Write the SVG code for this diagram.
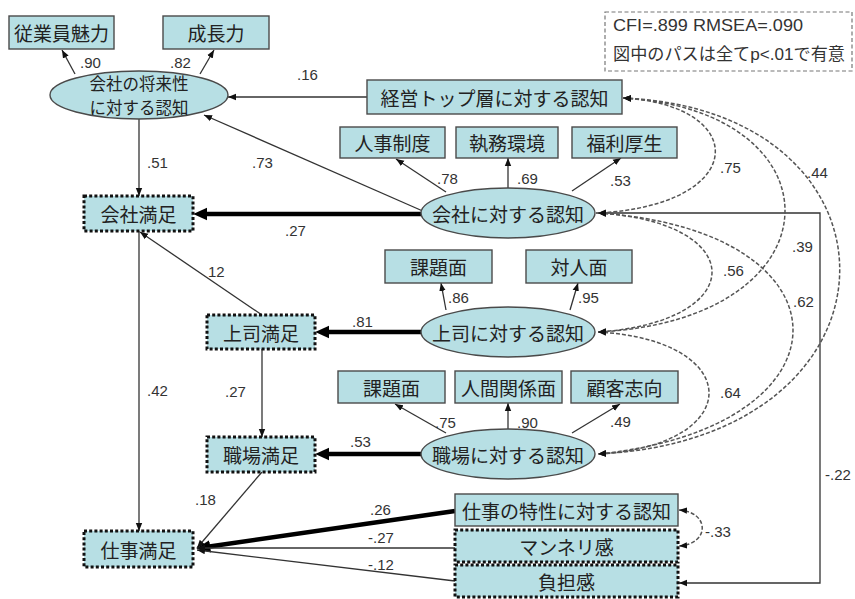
<svg xmlns="http://www.w3.org/2000/svg" width="855" height="599" viewBox="0 0 855 599">
<style>
.box{fill:#b7dfe4;stroke:#4a4a4a;stroke-width:1.4}
.dot{fill:#b7dfe4;stroke:#111;stroke-width:3;stroke-dasharray:3 2.2}
.ell{fill:#b7dfe4;stroke:#4a4a4a;stroke-width:1.4}
.t{font-family:"Noto Sans CJK JP","Noto Sans",sans-serif;font-size:19px;fill:#222;text-anchor:middle;dominant-baseline:central}
.s{font-size:16.5px}
.n{font-family:"Liberation Sans",Arial,sans-serif;font-size:15px;fill:#333}
.ln{fill:none;stroke:#333;stroke-width:1.3}
.th{fill:none;stroke:#000;stroke-width:4.5}
.cv{fill:none;stroke:#555;stroke-width:1.5;stroke-dasharray:4 2}
.lg{fill:none;stroke:#777;stroke-width:1.2;stroke-dasharray:4 2.5}
.lt{font-family:"Liberation Sans","Noto Sans CJK JP",sans-serif;font-size:16.5px;fill:#333}
</style>
<defs>
<marker id="a" viewBox="0 0 10 10" refX="10" refY="5" markerWidth="8" markerHeight="8" markerUnits="userSpaceOnUse" orient="auto-start-reverse"><path d="M0,1 L10,5 L0,9 z" fill="#111"/></marker>
<marker id="b" viewBox="0 0 10 10" refX="3" refY="5" markerWidth="14" markerHeight="14" markerUnits="userSpaceOnUse" orient="auto"><path d="M0,0.5 L10,5 L0,9.5 z" fill="#000"/></marker>
</defs>

<g id="legend">
<rect class="lg" x="605" y="12" width="247" height="59"/>
<text class="lt" x="613" y="31" textLength="190" lengthAdjust="spacingAndGlyphs">CFI=.899  RMSEA=.090</text>
<text class="lt" x="613" y="60" textLength="232" lengthAdjust="spacingAndGlyphs">図中のパスは全てp&lt;.01で有意</text>
</g>

<g id="connectors">
<line class="ln" x1="75" y1="74" x2="62" y2="50" marker-end="url(#a)"/>
<line class="ln" x1="200" y1="74" x2="214" y2="50" marker-end="url(#a)"/>
<line class="ln" x1="367" y1="97" x2="228" y2="97" marker-end="url(#a)"/>
<line class="ln" x1="425" y1="212" x2="204" y2="115" marker-end="url(#a)"/>
<line class="ln" x1="139" y1="119" x2="139" y2="196" marker-end="url(#a)"/>
<line class="ln" x1="446" y1="192" x2="396" y2="159" marker-end="url(#a)"/>
<line class="ln" x1="508" y1="188" x2="508" y2="158" marker-end="url(#a)"/>
<line class="ln" x1="572" y1="191" x2="621" y2="158" marker-end="url(#a)"/>
<line class="th" x1="422" y1="214" x2="203" y2="214" marker-end="url(#b)"/>
<line class="ln" x1="262" y1="315" x2="140" y2="232" marker-end="url(#a)"/>
<line class="ln" x1="446" y1="310" x2="441" y2="283" marker-end="url(#a)"/>
<line class="ln" x1="570" y1="310" x2="578" y2="283" marker-end="url(#a)"/>
<line class="th" x1="422" y1="332" x2="325" y2="332" marker-end="url(#b)"/>
<line class="ln" x1="139" y1="231" x2="139" y2="531" marker-end="url(#a)"/>
<line class="ln" x1="262" y1="349" x2="262" y2="437" marker-end="url(#a)"/>
<line class="ln" x1="446" y1="433" x2="395" y2="404" marker-end="url(#a)"/>
<line class="ln" x1="508" y1="429" x2="508" y2="403" marker-end="url(#a)"/>
<line class="ln" x1="572" y1="433" x2="620" y2="404" marker-end="url(#a)"/>
<line class="th" x1="422" y1="454" x2="325" y2="454" marker-end="url(#b)"/>
<line class="ln" x1="262" y1="472" x2="197" y2="548" marker-end="url(#a)"/>
<line class="th" x1="455" y1="511" x2="206" y2="547" marker-end="url(#b)"/>
<line class="ln" x1="455" y1="548" x2="197" y2="548" marker-end="url(#a)"/>
<line class="ln" x1="455" y1="581" x2="197" y2="550" marker-end="url(#a)"/>
<polyline class="ln" points="596,213 820,213 820,583 679,583" marker-end="url(#a)"/>
<path class="cv" d="M623,98 C750,105 750,205 598,213" marker-start="url(#a)" marker-end="url(#a)"/>
<path class="cv" d="M623,98 C843,110 843,320 598,332" marker-start="url(#a)" marker-end="url(#a)"/>
<path class="cv" d="M623,98 C916,110 916,439 598,454" marker-start="url(#a)" marker-end="url(#a)"/>
<path class="cv" d="M598,213 C750,222 750,322 598,332" marker-start="url(#a)" marker-end="url(#a)"/>
<path class="cv" d="M598,213 C858,230 858,428 598,454" marker-start="url(#a)" marker-end="url(#a)"/>
<path class="cv" d="M598,332 C746,340 746,446 598,454" marker-start="url(#a)" marker-end="url(#a)"/>
<path class="cv" d="M679,510 C710,512 710,544 679,546" marker-start="url(#a)" marker-end="url(#a)"/>
</g>

<g id="labels">
<text class="n" x="80" y="68">.90</text>
<text class="n" x="170" y="68">.82</text>
<text class="n" x="297" y="80">.16</text>
<text class="n" x="147" y="168">.51</text>
<text class="n" x="252" y="168">.73</text>
<text class="n" x="285" y="236">.27</text>
<text class="n" x="437" y="184">.78</text>
<text class="n" x="517" y="184">.69</text>
<text class="n" x="610" y="186">.53</text>
<text class="n" x="720" y="173">.75</text>
<text class="n" x="807" y="178">.44</text>
<text class="n" x="208" y="277">12</text>
<text class="n" x="448" y="303">.86</text>
<text class="n" x="578" y="303">.95</text>
<text class="n" x="352" y="327">.81</text>
<text class="n" x="792" y="252">.39</text>
<text class="n" x="723" y="276">.56</text>
<text class="n" x="793" y="307">.62</text>
<text class="n" x="147" y="396">.42</text>
<text class="n" x="225" y="397">.27</text>
<text class="n" x="435" y="428">.75</text>
<text class="n" x="517" y="428">.90</text>
<text class="n" x="610" y="427">.49</text>
<text class="n" x="720" y="398">.64</text>
<text class="n" x="350" y="447">.53</text>
<text class="n" x="825" y="480">-.22</text>
<text class="n" x="195" y="505">.18</text>
<text class="n" x="370" y="515">.26</text>
<text class="n" x="368" y="543">-.27</text>
<text class="n" x="705" y="537">-.33</text>
<text class="n" x="368" y="570">-.12</text>
</g>

<g id="n_jugyoin"><rect class="box" x="9" y="16" width="105" height="33"/><text class="t" x="61.5" y="32.5">従業員魅力</text></g>
<g id="n_seicho"><rect class="box" x="163" y="16" width="106" height="33"/><text class="t" x="216" y="32.5">成長力</text></g>
<g id="n_shorai"><ellipse class="ell" cx="139" cy="95" rx="89" ry="24"/><text class="t s" x="139" y="83">会社の将来性</text><text class="t s" x="139" y="107">に対する認知</text></g>
<g id="n_keiei"><rect class="box" x="367" y="80" width="255" height="34"/><text class="t" x="494.5" y="97">経営トップ層に対する認知</text></g>
<g id="n_jinji"><rect class="box" x="340" y="127" width="105" height="31"/><text class="t" x="392.5" y="142.5">人事制度</text></g>
<g id="n_shitsumu"><rect class="box" x="456" y="127" width="102" height="31"/><text class="t" x="507" y="142.5">執務環境</text></g>
<g id="n_fukuri"><rect class="box" x="572" y="127" width="105" height="31"/><text class="t" x="624.5" y="142.5">福利厚生</text></g>
<g id="n_kaisha"><ellipse class="ell" cx="508" cy="213" rx="87" ry="25"/><text class="t" x="508" y="213">会社に対する認知</text></g>
<g id="n_kaisha_manzoku"><rect class="dot" x="84" y="196" width="109" height="35"/><text class="t" x="138.5" y="213.5">会社満足</text></g>
<g id="n_kadai1"><rect class="box" x="385" y="250" width="107" height="33"/><text class="t" x="438.5" y="266.5">課題面</text></g>
<g id="n_taijin"><rect class="box" x="526" y="250" width="106" height="33"/><text class="t" x="579" y="266.5">対人面</text></g>
<g id="n_joshi"><ellipse class="ell" cx="508" cy="332" rx="87" ry="25"/><text class="t" x="508" y="332">上司に対する認知</text></g>
<g id="n_joshi_manzoku"><rect class="dot" x="207" y="315" width="108" height="34"/><text class="t" x="261" y="332">上司満足</text></g>
<g id="n_kadai2"><rect class="box" x="338" y="371" width="107" height="32"/><text class="t" x="391.5" y="387">課題面</text></g>
<g id="n_ningen"><rect class="box" x="455" y="371" width="107" height="32"/><text class="t" x="508.5" y="387">人間関係面</text></g>
<g id="n_kokyaku"><rect class="box" x="571" y="371" width="107" height="32"/><text class="t" x="624.5" y="387">顧客志向</text></g>
<g id="n_shokuba"><ellipse class="ell" cx="508" cy="454" rx="87" ry="25"/><text class="t" x="508" y="454">職場に対する認知</text></g>
<g id="n_shokuba_manzoku"><rect class="dot" x="207" y="437" width="108" height="35"/><text class="t" x="261" y="454.5">職場満足</text></g>
<g id="n_shigoto_manzoku"><rect class="dot" x="84" y="531" width="109" height="36"/><text class="t" x="138.5" y="549">仕事満足</text></g>
<g id="n_tokusei"><rect class="box" x="455" y="494" width="223" height="32"/><text class="t" x="566.5" y="510">仕事の特性に対する認知</text></g>
<g id="n_manneri"><rect class="dot" x="455" y="530" width="223" height="32"/><text class="t" x="566.5" y="546">マンネリ感</text></g>
<g id="n_futan"><rect class="dot" x="455" y="565" width="223" height="32"/><text class="t" x="566.5" y="581">負担感</text></g>
</svg>
